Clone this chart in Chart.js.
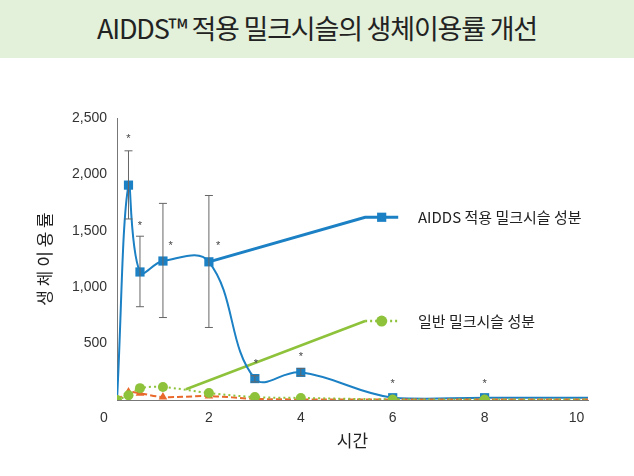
<!DOCTYPE html>
<html>
<head>
<meta charset="utf-8">
<script src="https://cdn.jsdelivr.net/npm/chart.js@4"></script>
<style>
  html, body { margin: 0; padding: 0; background: #fff; }
  #banner {
    width: 634px; height: 58px; background: #e3f0da;
    font-family: "Noto Sans CJK KR", "Noto Sans", sans-serif;
    font-size: 27px; color: #222; text-align: center; line-height: 56px;
    letter-spacing: -1.2px;
  }
  #wrap { width: 634px; height: 418px; }
</style>
</head>
<body>
<div id="banner">AIDDS™ 적용 밀크시슬의 생체이용률 개선</div>
<div id="wrap"><canvas id="graphs" width="634" height="418"></canvas></div>
<script>
// hours
let hours = [0, 0.25, 0.5, 1, 2, 3, 4, 6, 8, 10.25];
let aiddsValues = [0, 1905, 1135, 1232, 1225, 190, 245, 20, 20, 20];
let aiddsLow = [null, 1605, 827, 731, 643, 160, 215, null, null, null];
let aiddsHigh = [null, 2209, 1452, 1743, 1813, 215, 280, null, null, null];
let normalValues = [0, 42, 105, 115, 62, 26, 18, 5, 5, 5];
let otherValues = [0, 70, 60, 26, 35, 10, 5, 4, 4, 4];
let starHours = [0.25, 0.5, 1.17, 2.2, 3.02, 4, 6, 8];
let starValues = [2330, 1560, 1380, 1380, 335, 400, 160, 160];
let xTicks = [0, 2, 4, 6, 8, 10];
let legendLabels = ['AIDDS 적용 밀크시슬 성분', '일반 밀크시슬 성분'];

let blue = '#1b80c4';
let green = '#8dc23a';
let orange = '#e8692b';

function pts(values) {
  return hours.map((h, i) => ({ x: h, y: values[i] }));
}
function markerRadius(r) {
  return hours.map((h, i) => (i === hours.length - 1 ? 0 : r));
}

let extras = {
  id: 'extras',
  afterDatasetsDraw(chart) {
    let ctx = chart.ctx;
    let xs = chart.scales.x, ys = chart.scales.y;
    // error bars
    ctx.save();
    ctx.strokeStyle = '#666';
    ctx.lineWidth = 1;
    hours.forEach((h, i) => {
      if (aiddsLow[i] == null) return;
      let px = xs.getPixelForValue(h);
      let y1 = ys.getPixelForValue(aiddsLow[i]);
      let y2 = ys.getPixelForValue(aiddsHigh[i]);
      ctx.beginPath();
      ctx.moveTo(px, y1); ctx.lineTo(px, y2);
      ctx.moveTo(px - 4, y1); ctx.lineTo(px + 4, y1);
      ctx.moveTo(px - 4, y2); ctx.lineTo(px + 4, y2);
      ctx.stroke();
    });
    // significance marks
    ctx.fillStyle = '#444';
    ctx.font = '11px "Liberation Sans", Arial, sans-serif';
    ctx.textAlign = 'center';
    ctx.textBaseline = 'middle';
    starHours.forEach((h, i) => {
      ctx.fillText('*', xs.getPixelForValue(h), ys.getPixelForValue(starValues[i]) + 2);
    });
    // legend labels
    ctx.fillStyle = '#222';
    ctx.font = '15px "Noto Sans CJK KR", sans-serif';
    ctx.textAlign = 'left';
    ctx.fillText(legendLabels[0], xs.getPixelForValue(6.55), ys.getPixelForValue(1620));
    ctx.fillText(legendLabels[1], xs.getPixelForValue(6.55), ys.getPixelForValue(700));
    // corner zero
    ctx.fillStyle = '#333';
    ctx.font = '14px "Liberation Sans", Arial, sans-serif';
    ctx.textAlign = 'center';
    ctx.textBaseline = 'top';
    ctx.fillText('0', xs.getPixelForValue(0) - 13, ys.getPixelForValue(0) + 11);
    ctx.restore();
  }
};

let config = {
  type: 'line',
  data: {
    datasets: [
      {
        label: legendLabels[1],
        data: pts(normalValues),
        borderColor: green,
        backgroundColor: green,
        borderWidth: 2,
        borderDash: [2, 3],
        tension: 0.3,
        pointStyle: 'circle',
        pointRadius: markerRadius(5),
        pointBorderWidth: 0
      },
      {
        label: 'other',
        data: pts(otherValues),
        borderColor: orange,
        backgroundColor: orange,
        borderWidth: 2,
        borderDash: [6, 3],
        tension: 0.3,
        pointStyle: 'triangle',
        pointRadius: markerRadius(5),
        pointBorderWidth: 0
      },
      {
        label: legendLabels[0],
        data: pts(aiddsValues),
        borderColor: blue,
        backgroundColor: blue,
        borderWidth: 2,
        tension: 0.4,
        pointStyle: 'rect',
        pointRadius: hours.map((h, i) => (i === 0 || i === hours.length - 1 ? 0 : 6.5)),
        pointBorderWidth: 0
      },
      {
        label: 'legend-aidds',
        data: [{ x: 2, y: 1225 }, { x: 5.4, y: 1620 }, { x: 5.76, y: 1620 }, { x: 6.12, y: 1620 }],
        borderColor: blue,
        backgroundColor: blue,
        borderWidth: 3,
        tension: 0,
        pointStyle: 'rect',
        pointRadius: [0, 0, 6.5, 0],
        pointBorderWidth: 0
      },
      {
        label: 'legend-normal',
        data: [{ x: 1.5, y: 95 }, { x: 5.4, y: 700 }, { x: 5.76, y: 700 }, { x: 6.12, y: 700 }],
        borderColor: green,
        backgroundColor: green,
        borderWidth: 2.5,
        tension: 0,
        segment: { borderDash: c => (c.p0DataIndex === 0 ? undefined : [2, 3]) },
        pointStyle: 'circle',
        pointRadius: [0, 0, 5.5, 0],
        pointBorderWidth: 0
      }
    ]
  },
  options: {
    responsive: false,
    animation: false,
    layout: { padding: { left: 34, right: 46, top: 60, bottom: 23 } },
    plugins: { legend: { display: false }, tooltip: { enabled: false } },
    scales: {
      x: {
        type: 'linear',
        min: 0,
        max: 10.25,
        grid: { display: false, drawTicks: false },
        border: { color: '#777', width: 1 },
        afterBuildTicks: s => { s.ticks = xTicks.map(v => ({ value: v })); },
        afterFit: s => { s.height = 53; },
        ticks: {
          padding: 10,
          color: '#333',
          font: { size: 14, family: '"Liberation Sans", Arial, sans-serif' },
          callback: v => (v === 0 ? '' : v)
        },
        title: {
          display: true,
          text: '시간',
          color: '#222',
          padding: { top: 0, bottom: 2 },
          font: { size: 17, family: '"Noto Sans CJK KR", sans-serif' }
        }
      },
      y: {
        min: 0,
        max: 2500,
        grid: { display: false, drawOnChartArea: false, tickLength: 5, color: '#777' },
        border: { color: '#777', width: 1 },
        afterFit: s => { s.width = 83; },
        ticks: {
          stepSize: 500,
          padding: 5,
          color: '#333',
          font: { size: 14, family: '"Liberation Sans", Arial, sans-serif' },
          callback: v => (v === 0 ? '' : v.toLocaleString('en-US'))
        },
        title: {
          display: true,
          text: '생 체 이 용 률',
          color: '#222',
          padding: { top: 0, bottom: 0 },
          font: { size: 17, family: '"Noto Sans CJK KR", sans-serif' }
        }
      }
    }
  },
  plugins: [extras]
};

window.onload = function() {
  let ctx = document.querySelector('#graphs').getContext('2d');
  window.myChart = new Chart(ctx, config);
};
</script>
</body>
</html>
